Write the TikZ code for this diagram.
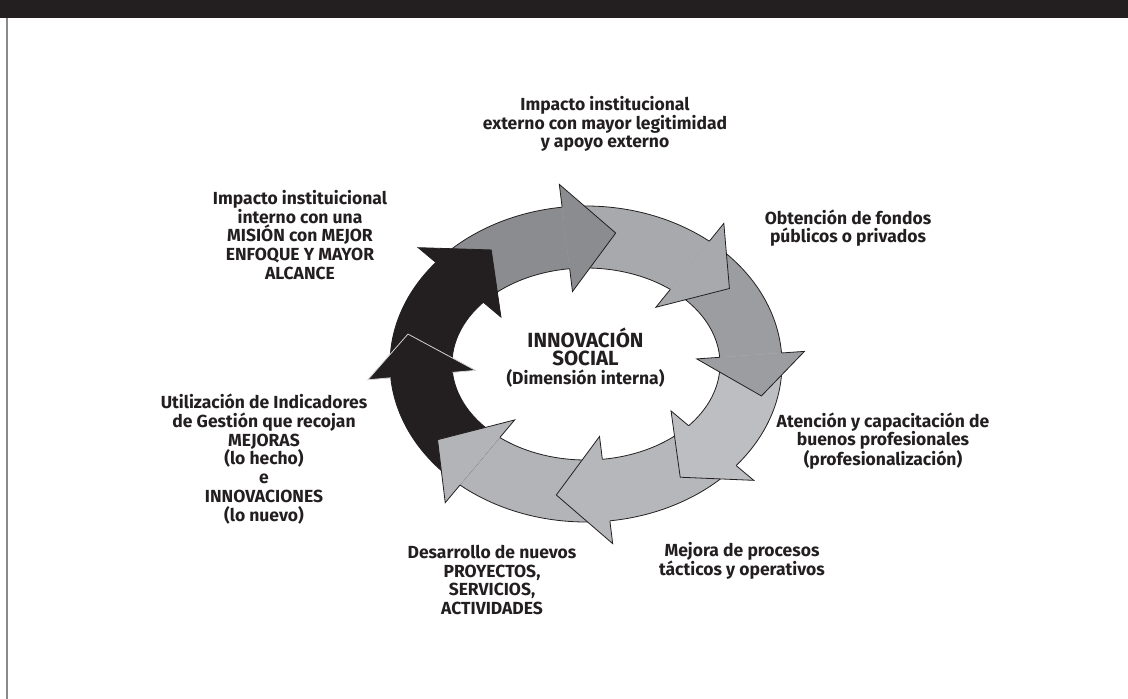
\documentclass[tikz,border=0pt]{standalone}
\usepackage{fontspec}
\setmainfont{Fira Sans}
\definecolor{ink}{HTML}{231F20}
\definecolor{cA}{HTML}{8B8C8F}
\definecolor{cB}{HTML}{A7A9AC}
\definecolor{cC}{HTML}{9C9DA0}
\definecolor{cD}{HTML}{BDBEC1}
\definecolor{cE}{HTML}{B6B7BA}
\definecolor{cF}{HTML}{B2B4B7}
\definecolor{frame}{HTML}{8A8A8A}
\newcommand\titlesize{\fontsize{20.5}{19.5}\selectfont}
\begin{document}
\begin{tikzpicture}[x=1pt,y=-1pt,
  edge/.style={draw=ink, line width=0.8pt, line join=miter},
  lbl/.style={font=\bfseries\fontsize{17.5}{18.7}\selectfont, align=center, text=ink, inner sep=0pt}]
\useasboundingbox (0,0) rectangle (1128,699);
% page header and frame
\fill[ink] (0,0) rectangle (1128,17.5);
\draw[frame, line width=1.6pt] (7,17.5) -- (7,699);

% ring geometry: centre, middle radii, half band width, half head width, head length (deg)
\def\cx{586}\def\cy{364}\def\ra{165}\def\rb{127}\def\hw{31}\def\bw{54}\def\hl{17}

% arrow bodies: tip angle / previous tip angle / colour
\foreach \t/\p/\c in {80/123/cA, 34/80/cB, -13/34/cC, -57/-13/cD, -100/-57/cE, -147/-100/cF, -192/-147/ink, -237/-192/ink}{
  \pgfmathsetmacro\s{\p+\hl}
  \pgfmathsetmacro\e{\t+\hl-3}
  \fill[\c] plot[domain=\s:\e, samples=40] ({\cx+(\ra+\hw)*cos(\x)},{\cy-(\rb+\hw)*sin(\x)})
        -- plot[domain=\e:\s, samples=40] ({\cx+(\ra-\hw)*cos(\x)},{\cy-(\rb-\hw)*sin(\x)}) -- cycle;
  \draw[edge] plot[domain=\s:\e, samples=40] ({\cx+(\ra+\hw)*cos(\x)},{\cy-(\rb+\hw)*sin(\x)});
  \draw[edge] plot[domain=\s:\e, samples=40] ({\cx+(\ra-\hw)*cos(\x)},{\cy-(\rb-\hw)*sin(\x)});
}
% arrow heads: tip angle / outward shift of the tip / colour / outline colour
\foreach \t/\d/\c/\o in {80/6/cA/ink, 34/8/cB/ink, -13/15/cC/ink, -57/8/cD/ink, -100/6/cE/ink, -147/12/cF/ink, -192/17/ink/gray!35, -237/9/ink/ink}{
  \pgfmathsetmacro\b{\t+\hl}
  \fill[\c] ({\cx+(\ra+\bw)*cos(\b)},{\cy-(\rb+\bw)*sin(\b)})
         -- ({\cx+(\ra+\d)*cos(\t)},{\cy-(\rb+\d)*sin(\t)})
         -- ({\cx+(\ra-\bw)*cos(\b)},{\cy-(\rb-\bw)*sin(\b)}) -- cycle;
  \draw[edge, draw=\o] ({\cx+(\ra+\hw)*cos(\b)},{\cy-(\rb+\hw)*sin(\b)})
         -- ({\cx+(\ra+\bw)*cos(\b)},{\cy-(\rb+\bw)*sin(\b)})
         -- ({\cx+(\ra+\d)*cos(\t)},{\cy-(\rb+\d)*sin(\t)})
         -- ({\cx+(\ra-\bw)*cos(\b)},{\cy-(\rb-\bw)*sin(\b)})
         -- ({\cx+(\ra-\hw)*cos(\b)},{\cy-(\rb-\hw)*sin(\b)});
}

% centre title
\node[lbl] (centre) at (585.5,357.5)
  {{\titlesize INNOVACIÓN}\\{\titlesize SOCIAL}\\(Dimensión interna)};

% stage labels
\node[lbl] (externo) at (605,124) {Impacto institucional\\externo con mayor legitimidad\\y apoyo externo};
\node[lbl] (fondos) at (848,228) {Obtención de fondos\\públicos o privados};
\node[lbl] (atencion) at (883,441) {Atención y capacitación de\\buenos profesionales\\(profesionalización)};
\node[lbl] (procesos) at (742,561) {Mejora de procesos\\tácticos y operativos};
\node[lbl] (desarrollo) at (492,580) {Desarrollo de nuevos\\PROYECTOS,\\SERVICIOS,\\ACTIVIDADES};
\node[lbl] (indicadores) at (264,459) {Utilización de Indicadores\\de Gestión que recojan\\MEJORAS\\(lo hecho)\\e\\INNOVACIONES\\(lo nuevo)};
\node[lbl] (interno) at (300,235) {Impacto instituicional\\interno con una\\MISIÓN con MEJOR\\ENFOQUE Y MAYOR\\ALCANCE};
\end{tikzpicture}
\end{document}
